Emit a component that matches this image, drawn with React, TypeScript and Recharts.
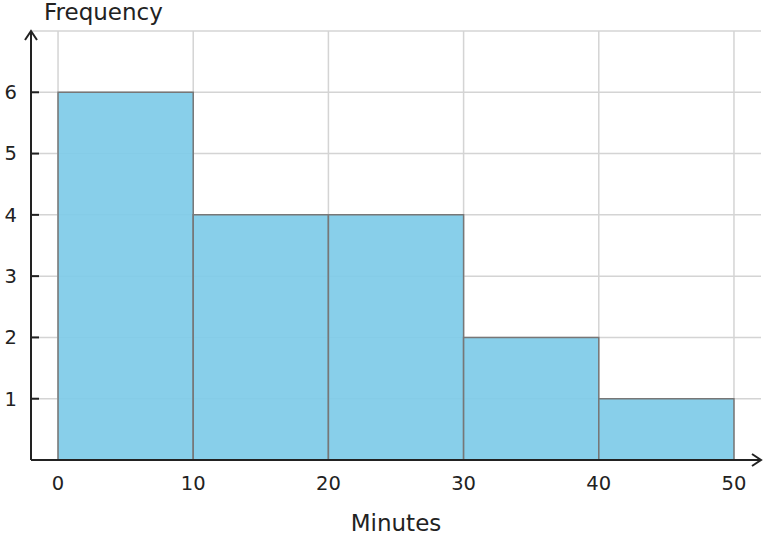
import React from 'react';
import {
  ComposedChart,
  XAxis,
  YAxis,
  CartesianGrid,
  ReferenceArea,
  Scatter,
  Label,
} from 'recharts';

// histogram bins (minutes) and their counts
const binStarts = [0, 10, 20, 30, 40];
const binEnds = [10, 20, 30, 40, 50];
const frequencies = [6, 4, 4, 2, 1];

const xTicks = [0, 10, 20, 30, 40, 50];
const yTicks = [1, 2, 3, 4, 5, 6];
const yGrid = [1, 2, 3, 4, 5, 6, 7];

const data = binStarts.map((s, i) => ({
  mid: (s + binEnds[i]) / 2,
  freq: frequencies[i],
}));

const FONT = '"DejaVu Sans", sans-serif';
const INK = '#222';

const YTick = (props: any) => {
  const { x, y, payload } = props;
  return (
    <g>
      <line x1={x + 15} y1={y} x2={x + 23} y2={y} stroke={INK} strokeWidth={2} />
      <text x={x + 1} y={y} dy="0.355em" textAnchor="end" fontSize={19.5} fontFamily={FONT} fill={INK}>
        {payload.value}
      </text>
    </g>
  );
};

const App: React.FC = () => {
  return (
    <div style={{ position: 'absolute', left: 0, top: 0, width: 764, height: 541, background: '#fff' }}>
      <svg width={0} height={0} style={{ position: 'absolute' }}>
        <defs>
          <marker
            id="axisArrow"
            markerUnits="userSpaceOnUse"
            markerWidth={16}
            markerHeight={16}
            refX={12}
            refY={8}
            orient="auto-start-reverse"
          >
            <path d="M3,2 L12,8 L3,14" fill="none" stroke={INK} strokeWidth={2} />
          </marker>
        </defs>
      </svg>
      <ComposedChart
        width={764}
        height={541}
        data={data}
        margin={{ top: 31, right: 3, bottom: 0, left: 11 }}
      >
        <CartesianGrid
          stroke="#d4d4d4"
          strokeWidth={1.5}
          horizontalValues={yGrid}
          verticalValues={xTicks}
        />
        {binStarts.map((s, i) => (
          <ReferenceArea
            key={s}
            x1={s}
            x2={binEnds[i]}
            y1={0}
            y2={frequencies[i]}
            fill="#7fcbe8"
            fillOpacity={0.93}
            stroke="#777"
            strokeWidth={1.5}
            strokeOpacity={1}
          />
        ))}
        <Scatter dataKey="freq" shape={() => null} isAnimationActive={false} />
        <XAxis
          dataKey="mid"
          type="number"
          domain={[-2, 52]}
          ticks={xTicks}
          height={81}
          tickSize={0}
          tickMargin={16}
          tickLine={false}
          axisLine={{ stroke: INK, strokeWidth: 2, markerEnd: 'url(#axisArrow)' } as any}
          tick={{ fontSize: 19.5, fontFamily: FONT, fill: INK }}
        >
          <Label
            value="Minutes"
            position="insideBottom"
            offset={10}
            fontSize={23}
            fontFamily={FONT}
            fill={INK}
          />
        </XAxis>
        <YAxis
          type="number"
          domain={[0, 7]}
          ticks={yTicks}
          width={20}
          tickSize={0}
          tickMargin={15}
          tickLine={false}
          axisLine={{ stroke: INK, strokeWidth: 2, markerStart: 'url(#axisArrow)' } as any}
          tick={<YTick />}
          label={{
            content: () => (
              <text x={44} y={20} fontSize={23} fontFamily={FONT} fill={INK}>
                Frequency
              </text>
            ),
          }}
        />
      </ComposedChart>
    </div>
  );
};

export default App;
